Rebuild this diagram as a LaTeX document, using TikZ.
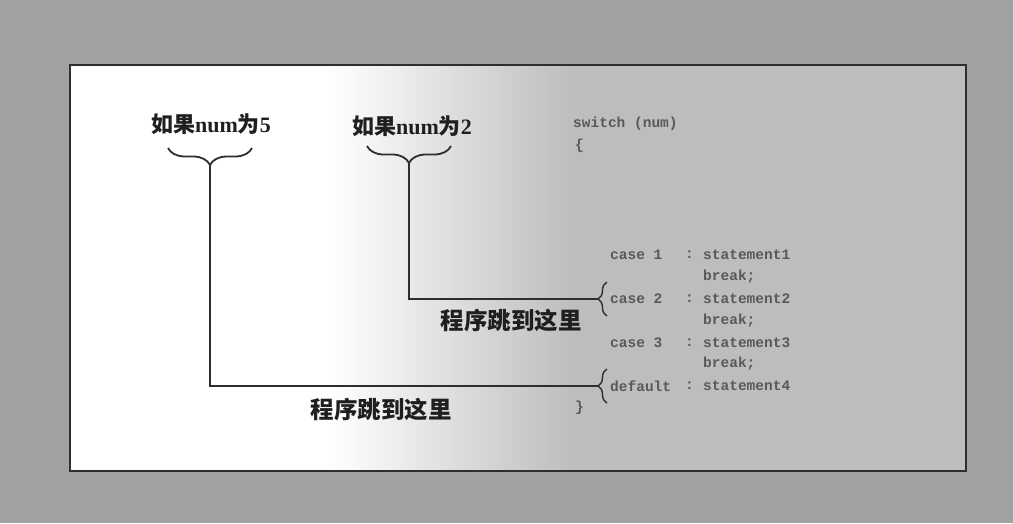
\documentclass[tikz,border=0pt]{standalone}
\usepackage{fontspec}
\setmainfont{Liberation Serif}
\setmonofont{Liberation Mono}
\newfontfamily\cjk{Noto Sans CJK SC}
\usetikzlibrary{decorations.pathreplacing}
\definecolor{outgray}{gray}{0.63}
\definecolor{panelgray}{gray}{0.74}
\definecolor{linecol}{gray}{0.18}
\definecolor{codecol}{gray}{0.35}
\begin{document}
\begin{tikzpicture}[x=1pt,y=-1pt,
  lbl/.style={font=\fontsize{22}{24}\selectfont\bfseries, text=black!88, inner sep=0pt},
  jump/.style={font=\cjk\fontsize{23.5}{26}\selectfont\bfseries, text=black!88, inner sep=0pt},
  code/.style={font=\ttfamily\bfseries\fontsize{14.5}{16}\selectfont, text=codecol, anchor=west, inner sep=0pt},
  conn/.style={draw=linecol, line width=2pt},
  labelbrace/.style={draw=linecol, line width=1.8pt, decorate, decoration={brace, amplitude=17pt}},
  codebrace/.style={draw=linecol, line width=1.4pt, decorate, decoration={brace, amplitude=9pt}}]
\useasboundingbox (0,0) rectangle (1013,523);
% backgrounds
\fill[outgray] (0,0) rectangle (1013,523);
\fill[white] (70,65) rectangle (966,471);
\shade[left color=white, right color=panelgray] (330,65) rectangle (575,471);
\fill[panelgray] (575,65) rectangle (966,471);
\draw[linecol, line width=1.8pt] (70,65) rectangle (966,471);
% labels
\node[lbl] (l5) at (211,124) {{\cjk 如果}num{\cjk 为}5};
\node[lbl] (l2) at (412,126) {{\cjk 如果}num{\cjk 为}2};
\draw[labelbrace] (252,148) -- (168,148);
\draw[labelbrace] (451,146) -- (367,146);
\coordinate (t5) at (210,165);
\coordinate (t2) at (409,163);
% code
\node[code] (sw) at (573,124) {switch (num)};
\node[code] (ob) at (575,146) {\{};
\node[code] (c1) at (610,255) {case 1};
\node[code] (k1) at (685,255) {:};
\node[code] (s1) at (703,255) {statement1};
\node[code] (b1) at (703,277) {break;};
\node[code] (c2) at (610,299) {case 2};
\node[code] (k2) at (685,299) {:};
\node[code] (s2) at (703,299) {statement2};
\node[code] (b2) at (703,321) {break;};
\node[code] (c3) at (610,342.5) {case 3};
\node[code] (k3) at (685,342.5) {:};
\node[code] (s3) at (703,342.5) {statement3};
\node[code] (b3) at (703,364) {break;};
\node[code] (d4) at (610,386) {default};
\node[code] (k4) at (685,386) {:};
\node[code] (s4) at (703,386) {statement4};
\node[code] (cb) at (575,408) {\}};
% code braces
\draw[codebrace] (607,316) -- (607,282);
\draw[codebrace] (607,403) -- (607,369);
\coordinate (bc2) at (598,299);
\coordinate (bc4) at (598,386);
% connectors
\draw[conn] (t2) |- (bc2);
\draw[conn] (t5) |- (bc4);
% jump labels
\node[jump] (j2) at (511,321) {程序跳到这里};
\node[jump] (j5) at (381,410) {程序跳到这里};
\end{tikzpicture}
\end{document}
